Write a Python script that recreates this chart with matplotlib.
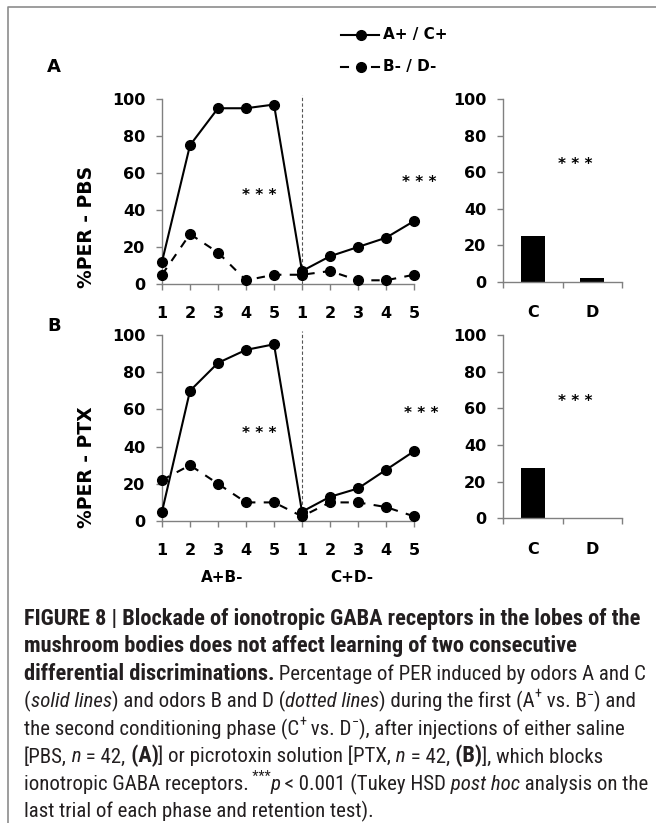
import matplotlib
matplotlib.use('Agg')
import matplotlib.pyplot as plt
from matplotlib.lines import Line2D

W, H = 656, 823

# data
trials = ['1', '2', '3', '4', '5', '1', '2', '3', '4', '5']
pbs_plus = [12, 75, 95, 95, 97, 7, 15, 20, 25, 34]
pbs_minus = [5, 27, 17, 2, 5, 5, 7, 2, 2, 5]
ptx_plus = [5, 70, 85, 92, 95, 5, 13, 17.5, 27.5, 37.5]
ptx_minus = [22, 30, 20, 10, 10, 2.5, 10, 10, 7.5, 2.5]
test_odors = ['C', 'D']
pbs_test = [25, 2]
ptx_test = [27.5, 0]

plt.rcParams['font.family'] = ['DejaVu Sans']
plt.rcParams['font.weight'] = 'bold'

AXIS_GREY = '#808080'


def fx(px):
    return px / W


def fy(py):
    return 1 - py / H


def add_axes_px(fig, left, top, right, bottom):
    return fig.add_axes([fx(left), fy(bottom), (right - left) / W, (bottom - top) / H])


def style(ax, xpad):
    for s in ['top', 'right']:
        ax.spines[s].set_visible(False)
    for s in ['left', 'bottom']:
        ax.spines[s].set_color(AXIS_GREY)
        ax.spines[s].set_linewidth(1)
    ax.tick_params(axis='both', direction='out', length=4, width=1,
                   color=AXIS_GREY, labelsize=11.5)
    ax.tick_params(axis='y', pad=8)
    ax.tick_params(axis='x', pad=xpad)
    ax.set_yticks(range(0, 101, 20))
    ax.set_ylim(0, 100)


def line_panel(ax, plus, minus):
    x = list(range(len(trials)))
    ax.plot(x, minus, color='black', lw=1.5, ls=(0, (4, 4)), marker='o', ms=7,
            clip_on=False, zorder=3)
    ax.plot(x, plus, color='black', lw=1.5, marker='o', ms=7,
            clip_on=False, zorder=4)
    ax.axvline(5, ymax=1.02, color='#555555', lw=0.8, ls=(0, (3, 2)), clip_on=False)
    ax.set_xlim(0, len(trials) - 1)
    ax.set_xticks(x)
    ax.set_xticklabels(trials)
    style(ax, 12)


def bar_panel(ax, vals):
    pos = [i + 0.5 for i in range(len(test_odors))]
    ax.bar(pos, vals, width=0.4, color='black')
    ax.set_xlim(0, len(test_odors))
    ax.set_xticks(range(len(test_odors) + 1))
    ax.set_xticklabels([''] * (len(test_odors) + 1))
    ax.set_xticks(pos, minor=True)
    ax.set_xticklabels(test_odors, minor=True)
    style(ax, 12)
    ax.tick_params(axis='x', which='minor', length=0, pad=17, labelsize=11.5)


def stars(ax, x, y):
    ax.text(x, y, '* * *', ha='center', va='center', fontsize=11, fontweight='bold')


fig = plt.figure(figsize=(W / 100, H / 100), dpi=100)

# panel A
axA = add_axes_px(fig, 162, 99, 414, 284)
line_panel(axA, pbs_plus, pbs_minus)
stars(axA, 3.46, 48)
stars(axA, 9.18, 55)
axA2 = add_axes_px(fig, 503, 99.3, 622, 281.7)
bar_panel(axA2, pbs_test)
stars(axA2, 1.21, 64.5)

# panel B
axB = add_axes_px(fig, 162, 335, 414, 521)
line_panel(axB, ptx_plus, ptx_minus)
stars(axB, 3.46, 47)
stars(axB, 9.25, 58)
axB2 = add_axes_px(fig, 503, 335, 622, 518.3)
bar_panel(axB2, ptx_test)
stars(axB2, 1.21, 63.5)

fig.text(fx(87), fy(227), '%PER - PBS', rotation=90, ha='center', va='center',
         fontsize=13.5, fontweight='bold')
fig.text(fx(87), fy(467), '%PER - PTX', rotation=90, ha='center', va='center',
         fontsize=13.5, fontweight='bold')
fig.text(fx(54), fy(67), 'A', ha='center', va='center', fontsize=13, fontweight='bold')
fig.text(fx(54), fy(326), 'B', ha='center', va='center', fontsize=13, fontweight='bold')
fig.text(fx(222), fy(577), 'A+B-', ha='center', va='center', fontsize=11, fontweight='bold')
fig.text(fx(352), fy(577), 'C+D-', ha='center', va='center', fontsize=11, fontweight='bold')

# legend
fig.add_artist(Line2D([fx(341), fx(379)], [fy(35), fy(35)], color='black', lw=1.5,
                      transform=fig.transFigure))
fig.add_artist(Line2D([fx(361)], [fy(35)], color='black', marker='o', ms=7,
                      transform=fig.transFigure))
fig.text(fx(383), fy(35), 'A+ / C+', ha='left', va='center', fontsize=11, fontweight='bold')
for a, b in [(341, 348), (372, 379)]:
    fig.add_artist(Line2D([fx(a), fx(b)], [fy(67), fy(67)], color='black', lw=1.5,
                          transform=fig.transFigure))
fig.add_artist(Line2D([fx(361)], [fy(67)], color='black', marker='o', ms=7,
                      transform=fig.transFigure))
fig.text(fx(383), fy(67), 'B- / D-', ha='left', va='center', fontsize=11, fontweight='bold')

# frame (top and left only)
fig.add_artist(Line2D([fx(8), fx(8), 1], [0, fy(7), fy(7)], color='#8c8c8c', lw=1.2,
                      transform=fig.transFigure))

# caption, in a condensed face like the journal's
cap_family = ['Roboto Condensed', 'Fira Sans Condensed', 'Archivo Narrow',
              'Liberation Sans', 'DejaVu Sans']
cap_color = '#231f20'
caption = [
    [('FIGURE 8 | Blockade of ionotropic GABA receptors in the lobes of the', 'b')],
    [('mushroom bodies does not affect learning of two consecutive', 'b')],
    [('differential discriminations.', 'b'), (' Percentage of PER induced by odors A and C', 'n')],
    [('(', 'n'), ('solid lines', 'i'), (') and odors B and D (', 'n'), ('dotted lines', 'i'),
     (') during the first (A', 'n'), ('+', 'sup'), (' vs. B', 'n'), ('\u2212', 'sup'), (') and', 'n')],
    [('the second conditioning phase (C', 'n'), ('+', 'sup'), (' vs. D', 'n'), ('\u2212', 'sup'),
     ('), after injections of either saline', 'n')],
    [('[PBS,', 'n'), (' n', 'i'), (' = 42,', 'n'), (' (A)', 'b'), ('] or picrotoxin solution [PTX,', 'n'),
     (' n', 'i'), (' = 42,', 'n'), (' (B)', 'b'), ('], which blocks', 'n')],
    [('ionotropic GABA receptors.', 'n'), (' ***', 'sup'), ('p', 'i'), (' < 0.001 (Tukey HSD', 'n'),
     (' post hoc', 'i'), (' analysis on the', 'n')],
    [('last trial of each phase and retention test).', 'n')],
]
CAP_LEFT, CAP_RIGHT_FIRST, CAP_MAX_RIGHT = 24, 641, 648

renderer = fig.canvas.get_renderer()


def run_kw(kind, size, bsize):
    kw = dict(fontsize=size, color=cap_color, family=cap_family, va='baseline',
              ha='left', fontweight='normal')
    dy = 0
    if kind == 'b':
        kw['fontweight'] = 'bold'
        kw['fontsize'] = bsize
    elif kind == 'i':
        kw['fontstyle'] = 'italic'
    elif kind == 'sup':
        kw['fontsize'] = size * 0.68
        dy = size * 0.42 * 100 / 72
    return kw, dy


def draw_runs(x0, y0, runs, size, bsize):
    x = x0
    for text, kind in runs:
        kw, dy = run_kw(kind, size, bsize)
        t = fig.text(fx(x), fy(y0 - dy), text, **kw)
        x += t.get_window_extent(renderer).width


# measure bold and regular parts of every line at 10 pt
widths = []
for runs in caption:
    wb = wn = 0
    for text, kind in runs:
        kw, _ = run_kw(kind, 10, 10)
        t = fig.text(0, 0, text, **kw)
        w = t.get_window_extent(renderer).width
        t.remove()
        if kind == 'b':
            wb += w
        else:
            wn += w
    widths.append((wb, wn))

bold_size = 10 * (CAP_RIGHT_FIRST - CAP_LEFT) / widths[0][0]
room = CAP_MAX_RIGHT - CAP_LEFT
reg_size = min(10 * (room - wb * bold_size / 10) / wn for wb, wn in widths if wn > 0)
reg_size = min(reg_size, bold_size)
bold_size = min(bold_size, reg_size * 1.1)

for i, runs in enumerate(caption):
    draw_runs(CAP_LEFT, 624.5 + i * 27.6, runs, reg_size, bold_size)

fig.savefig('out.png', dpi=100)
